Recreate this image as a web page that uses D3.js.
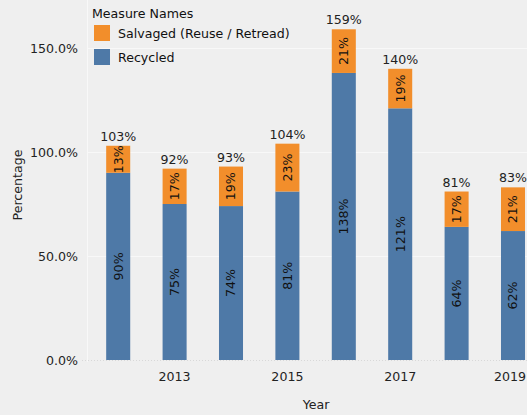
<!DOCTYPE html>
<html>
<head>
<meta charset="utf-8">
<script src="https://cdn.jsdelivr.net/npm/d3@7"></script>
<style>
  body { margin: 0; background: #efefef; }
  svg { display: block; font-family: "DejaVu Sans", sans-serif; }
</style>
</head>
<body>
<script>
// chart data
var years = [2012, 2013, 2014, 2015, 2016, 2017, 2018, 2019];
var recycled = [90, 75, 74, 81, 138, 121, 64, 62];
var salvaged = [13, 17, 19, 23, 21, 19, 17, 21];
var yTicks = [0, 50, 100, 150];
var xTickYears = [2013, 2015, 2017, 2019];

var w = 527, h = 415;
var pad = { top: 48, bottom: 55, left: 87 };
var fs = 12.6;

var svg = d3.select("body").append("svg")
    .attr("width", w)
    .attr("height", h);

// x scale: bands keep going past the right edge (clipped like the original)
var step = 56.4;
var xScale = d3.scaleBand()
    .domain(years)
    .range([90, 90 + step * years.length])
    .paddingInner(0.574)
    .paddingOuter(0.287);

var yScale = d3.scaleLinear()
    .domain([0, 150])
    .range([h - pad.bottom, pad.top]);

// grid lines
svg.append("g").selectAll("line")
    .data(yTicks.slice(1))
    .enter().append("line")
    .attr("x1", pad.left).attr("x2", w)
    .attr("y1", function(d) { return Math.round(yScale(d)) + 0.5; })
    .attr("y2", function(d) { return Math.round(yScale(d)) + 0.5; })
    .attr("stroke", "#f8f8f8")
    .attr("stroke-width", 1);

// y axis line
svg.append("line")
    .attr("x1", pad.left + 0.5).attr("x2", pad.left + 0.5)
    .attr("y1", 0).attr("y2", h - pad.bottom + 2)
    .attr("stroke", "#f8f8f8");

// zero line (dotted)
svg.append("line")
    .attr("x1", pad.left - 5).attr("x2", w)
    .attr("y1", yScale(0) + 0.5).attr("y2", yScale(0) + 0.5)
    .attr("stroke", "#d8d8d8")
    .attr("stroke-dasharray", "1,2");

// y axis labels
var yAxis = d3.axisLeft(yScale)
    .tickValues(yTicks)
    .tickSize(0)
    .tickPadding(9)
    .tickFormat(function(d) { return d.toFixed(1) + "%"; });

var gy = svg.append("g")
    .attr("transform", "translate(" + pad.left + ",0)")
    .call(yAxis);
gy.select(".domain").remove();
gy.selectAll("text")
    .attr("font-size", fs)
    .attr("font-family", "DejaVu Sans, sans-serif")
    .attr("fill", "#222");

// x axis labels
var xAxis = d3.axisBottom(xScale)
    .tickValues(xTickYears)
    .tickSize(0)
    .tickPadding(12);

var gx = svg.append("g")
    .attr("transform", "translate(0," + yScale(0) + ")")
    .call(xAxis);
gx.select(".domain").remove();
gx.selectAll("text")
    .attr("font-size", fs)
    .attr("font-family", "DejaVu Sans, sans-serif")
    .attr("fill", "#222");

// keep the last year label inside the window
gx.selectAll(".tick").each(function(d) {
  var t = d3.select(this).select("text");
  var box = this.getBBox();
  var cx = xScale(d) + xScale.bandwidth() / 2;
  var over = cx + box.width / 2 - (w - 1);
  if (over > 0) t.attr("dx", -over);
});

// axis titles
svg.append("text")
    .attr("x", 316).attr("y", 409)
    .attr("text-anchor", "middle")
    .attr("font-size", fs)
    .attr("fill", "#222")
    .text("Year");

svg.append("text")
    .attr("transform", "translate(22," + 185 + ") rotate(-90)")
    .attr("text-anchor", "middle")
    .attr("font-size", fs)
    .attr("fill", "#222")
    .text("Percentage");

var data = years.map(function(y, i) {
  return { year: y, rec: recycled[i], sal: salvaged[i] };
});

// bars
var bw = xScale.bandwidth();

svg.append("g").selectAll("rect")
    .data(data)
    .enter().append("rect")
    .attr("x", function(d) { return xScale(d.year); })
    .attr("width", bw)
    .attr("y", function(d) { return yScale(d.rec); })
    .attr("height", function(d) { return yScale(0) - yScale(d.rec); })
    .attr("fill", "#4e79a7");

svg.append("g").selectAll("rect")
    .data(data)
    .enter().append("rect")
    .attr("x", function(d) { return xScale(d.year); })
    .attr("width", bw)
    .attr("y", function(d) { return yScale(d.rec + d.sal); })
    .attr("height", function(d) { return yScale(d.rec) - yScale(d.rec + d.sal); })
    .attr("fill", "#f28e2b");

// labels inside segments (rotated)
function segLabel(sel, lo, hi, val) {
  sel.append("g").selectAll("text")
    .data(data)
    .enter().append("text")
    .attr("transform", function(d) {
      var cx = xScale(d.year) + bw / 2;
      var cy = (yScale(lo(d)) + yScale(hi(d))) / 2;
      return "translate(" + cx + "," + cy + ") rotate(-90)";
    })
    .attr("text-anchor", "middle")
    .attr("dy", "0.35em")
    .attr("font-size", fs)
    .attr("fill", "#111")
    .text(function(d) { return val(d) + "%"; });
}

segLabel(svg, function(d) { return 0; }, function(d) { return d.rec; }, function(d) { return d.rec; });
segLabel(svg, function(d) { return d.rec; }, function(d) { return d.rec + d.sal; }, function(d) { return d.sal; });

// total labels
svg.append("g").selectAll("text")
    .data(data)
    .enter().append("text")
    .attr("x", function(d) { return xScale(d.year) + bw / 2; })
    .attr("y", function(d) { return yScale(d.rec + d.sal) - 5; })
    .attr("text-anchor", "middle")
    .attr("font-size", fs)
    .attr("fill", "#222")
    .text(function(d) { return (d.rec + d.sal) + "%"; });

// legend
var legend = svg.append("g").attr("transform", "translate(92,0)");
legend.append("text")
    .attr("x", 0).attr("y", 18)
    .attr("font-size", fs)
    .attr("fill", "#111")
    .text("Measure Names");

var legendItems = [
  { name: "Salvaged (Reuse / Retread)", color: "#f28e2b" },
  { name: "Recycled", color: "#4e79a7" }
];
var li = legend.selectAll("g.item")
    .data(legendItems)
    .enter().append("g")
    .attr("class", "item")
    .attr("transform", function(d, i) { return "translate(2," + (25 + i * 24) + ")"; });
li.append("rect")
    .attr("width", 16).attr("height", 16)
    .attr("fill", function(d) { return d.color; });
li.append("text")
    .attr("x", 24).attr("y", 13)
    .attr("font-size", fs)
    .attr("fill", "#111")
    .text(function(d) { return d.name; });
</script>
</body>
</html>
